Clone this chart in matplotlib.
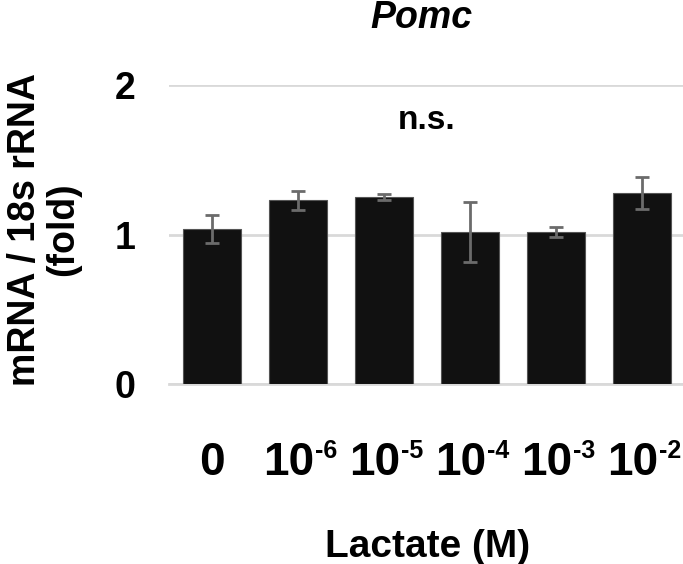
import matplotlib
matplotlib.use("Agg")
import matplotlib.pyplot as plt

# valores (Pomc)
bases = ['0', '10', '10', '10', '10', '10']
exponents = ['', '-6', '-5', '-4', '-3', '-2']
means = [1.035, 1.23, 1.25, 1.015, 1.02, 1.28]
errors = [0.094, 0.063, 0.02, 0.2, 0.033, 0.107]
yticks = [0, 1, 2]

plt.rcParams['font.family'] = ['Liberation Sans', 'DejaVu Sans']
plt.rcParams['font.weight'] = 'bold'

W, H = 683, 564
fig = plt.figure(figsize=(W / 100, H / 100), dpi=100)
ax = fig.add_axes([169 / W, (H - 384.3) / H, 516 / W, 299.3 / H])

x = list(range(len(means)))
ax.bar(x, means, width=0.667, color='#111111', edgecolor='#555555', linewidth=0.8, zorder=3)
ax.errorbar(x, means, yerr=errors, fmt='none', ecolor='#6b6b6b', elinewidth=2,
            capsize=5, capthick=2, zorder=4)

ax.set_xlim(-0.5, len(means) - 0.5)
ax.set_ylim(0, 2)
ax.set_yticks(yticks)
ax.set_yticklabels([str(t) for t in yticks], fontsize=27, fontweight='bold')
ax.set_xticks(x)
ax.set_xticklabels([])
ax.tick_params(axis='both', length=0)
ax.tick_params(axis='y', pad=24)
ax.yaxis.grid(True, color='#d9d9d9', linewidth=2, zorder=0)
for s in ['top', 'right', 'left']:
    ax.spines[s].set_visible(False)
ax.spines['bottom'].set_color('#d9d9d9')
ax.spines['bottom'].set_linewidth(2)

# rotulos do eixo x (10 com expoente sobrescrito)
px = 0.72  # pontos por pixel
for i, (b, e) in enumerate(zip(bases, exponents)):
    if e == '':
        ax.annotate(b, xy=(i, 0), xycoords=('data', 'axes fraction'),
                    xytext=(0, -90.7 * px), textcoords='offset points',
                    ha='center', va='baseline', fontsize=33, fontweight='bold')
    else:
        ax.annotate(b, xy=(i, 0), xycoords=('data', 'axes fraction'),
                    xytext=(16 * px, -90.7 * px), textcoords='offset points',
                    ha='right', va='baseline', fontsize=33, fontweight='bold')
        ax.annotate(e, xy=(i, 0), xycoords=('data', 'axes fraction'),
                    xytext=(17 * px, -73.7 * px), textcoords='offset points',
                    ha='left', va='baseline', fontsize=18, fontweight='bold')

ax.text(2.5, 1.709, 'n.s.', ha='center', va='baseline', fontsize=24, fontweight='bold')

fig.text(421 / W, 1 - 28 / H, 'Pomc', ha='center', va='baseline', fontsize=27,
         fontweight='bold', fontstyle='italic')
fig.text(44 / W, 1 - 229 / H, 'mRNA / 18s rRNA\n(fold)', rotation=90, ha='center',
         va='center', multialignment='center', fontsize=27, fontweight='bold',
         linespacing=1.05)
fig.text(428 / W, 1 - 557 / H, 'Lactate (M)', ha='center', va='baseline', fontsize=28,
         fontweight='bold')

fig.savefig('out.png', dpi=100)
